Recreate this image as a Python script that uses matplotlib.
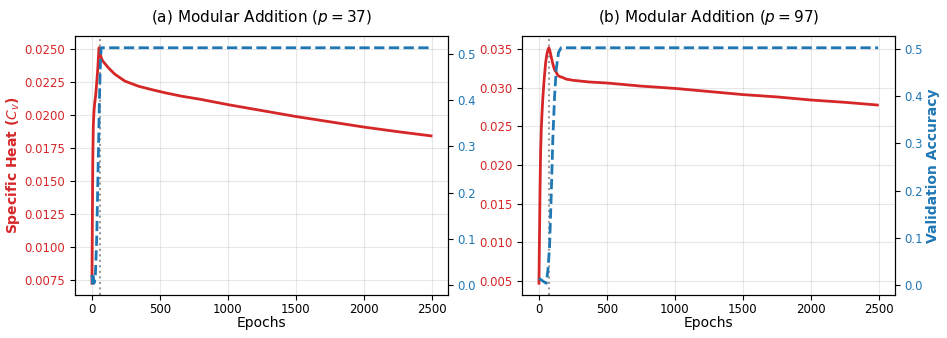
import matplotlib
matplotlib.use("Agg")
import matplotlib.pyplot as plt

RED = "#d62728"
BLUE = "#1f77b4"

titles = ["(a) Modular Addition ($p = 37$)", "(b) Modular Addition ($p = 97$)"]
peak_epochs = [60, 75]

# Panel (a) p=37
a_heat_epochs = [0, 3, 6, 10, 15, 20, 25, 30, 36, 42, 48, 52, 56, 62, 70, 80, 96, 120, 169, 243,
                 341, 439, 537, 659, 800, 1000, 1250, 1500, 1750, 2000, 2250, 2495]
a_heat = [0.00726, 0.0120, 0.0165, 0.0192, 0.0203, 0.0209, 0.0213, 0.0218, 0.0226, 0.0234, 0.0244,
          0.02511, 0.0250, 0.0246, 0.0243, 0.0241, 0.0239, 0.0236, 0.0231, 0.02258,
          0.0222, 0.02194, 0.0217, 0.02144, 0.0212, 0.0208, 0.02035, 0.0199, 0.0195, 0.0191,
          0.01875, 0.01843]
a_acc_epochs = [0, 5, 10, 15, 25, 35, 45, 55, 62, 68, 2495]
a_acc = [0.022, 0.004, 0.018, 0.004, 0.02, 0.10, 0.25, 0.40, 0.48, 0.513, 0.513]

# Panel (b) p=97
b_heat_epochs = [0, 4, 8, 12, 17, 22, 29, 38, 49, 58, 66, 73, 80, 90, 103, 115, 127, 139, 150,
                 176, 201, 249, 371, 500, 750, 1000, 1250, 1500, 1750, 2000, 2250, 2490]
b_heat = [0.00468, 0.0110, 0.0170, 0.0215, 0.0245, 0.0265, 0.0288, 0.0310, 0.0332, 0.0343, 0.0349,
          0.03516, 0.0348, 0.0340, 0.0330, 0.0323, 0.0320, 0.0316, 0.03145,
          0.03130, 0.03110, 0.03095, 0.03073, 0.0306, 0.0302, 0.0299, 0.0295, 0.0291, 0.0288,
          0.0284, 0.0281, 0.02775]
b_acc_epochs = [0, 20, 40, 54, 66, 78, 90, 102, 115, 127, 144, 163, 2495]
b_acc = [0.014, 0.010, 0.006, 0.0036, 0.032, 0.081, 0.188, 0.309, 0.40, 0.457, 0.493, 0.503, 0.503]

heat_epochs = [a_heat_epochs, b_heat_epochs]
heats = [a_heat, b_heat]
acc_epochs = [a_acc_epochs, b_acc_epochs]
accs = [a_acc, b_acc]

fig = plt.figure(figsize=(9.47, 3.38), dpi=100)
lefts = [75 / 947, 522 / 947]
W = 373 / 947
B = 43 / 338
H = 259 / 338

for i in range(2):
    ax = fig.add_axes([lefts[i], B, W, H])
    ax.plot(heat_epochs[i], heats[i], color=RED, lw=2, zorder=3)
    ax.axvline(peak_epochs[i], color="gray", ls=":", lw=1.5, alpha=0.8, zorder=2)
    ax.grid(True, alpha=0.3)
    ax.tick_params(axis="y", labelcolor=RED, labelsize=8.5)
    ax.tick_params(axis="x", labelsize=8.5, pad=2.5)
    ax.set_xlabel("Epochs", fontsize=10, labelpad=0)
    ax.set_title(titles[i], fontsize=11, pad=10)
    ax.set_xticks([0, 500, 1000, 1500, 2000, 2500])
    if i == 0:
        ax.set_ylabel("Specific Heat ($C_v$)", color=RED, fontsize=10, fontweight="bold", labelpad=2)
    ax2 = ax.twinx()
    ax2.plot(acc_epochs[i], accs[i], color=BLUE, lw=2, ls="--", zorder=3)
    ax2.tick_params(axis="y", labelcolor=BLUE, labelsize=8.5)
    if i == 1:
        ax2.set_ylabel("Validation Accuracy", color=BLUE, fontsize=10, fontweight="bold", labelpad=2)

fig.savefig("out.png", dpi=100)
